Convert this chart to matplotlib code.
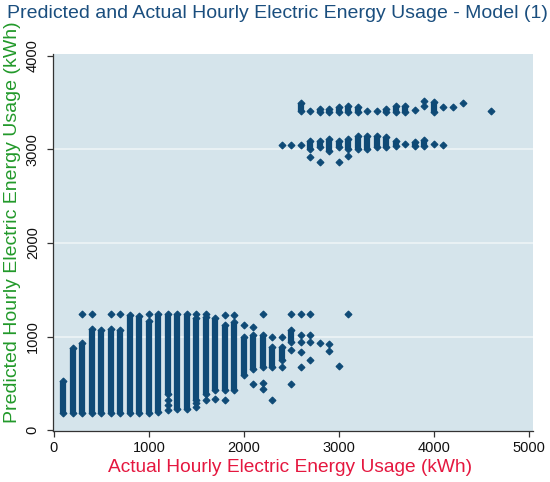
import matplotlib
matplotlib.use("Agg")
import matplotlib.pyplot as plt

# ---------------- data ----------------
# continuous vertical runs of points: actual usage bin, lowest and highest predicted value
seg_x = [100, 200, 300, 400, 500, 600, 700, 800, 900, 1000, 1100, 1200, 1300, 1400,
         1500, 1600, 1700, 1800, 1900, 2000, 2100, 2200, 2300, 2400, 2500,
         2700, 2800, 2900, 3000, 3100, 3200, 3300, 3400, 3500, 3600, 3800, 3900,
         2600, 2800, 2900, 3000, 3100, 3200, 3500, 3600, 3700, 4000]
seg_lo = [185, 185, 185, 185, 185, 185, 185, 185, 185, 185, 190, 390, 230, 230,
          320, 390, 430, 427, 430, 587, 658, 676, 676, 747, 942,
          3000, 3022, 2987, 3022, 3004, 3004, 3004, 3022, 3022, 3040, 3040, 3040,
          3406, 3396, 3396, 3396, 3396, 3396, 3396, 3396, 3396, 3396]
seg_hi = [525, 880, 935, 1085, 1067, 1085, 1075, 1230, 1220, 1170, 1240, 1240, 1244, 1244,
          1200, 1209, 1200, 1120, 1156, 1000, 1013, 1013, 889, 889, 1067,
          3090, 3093, 3111, 3093, 3111, 3147, 3147, 3147, 3129, 3093, 3076, 3100,
          3491, 3431, 3431, 3449, 3467, 3449, 3431, 3467, 3467, 3502]

# isolated points
pt_x = [300, 400, 600, 700, 1000, 1200, 1200, 1200, 1500, 1500, 1500, 1600, 1600,
        1700, 1800, 1800, 1900, 2000, 2100, 2100, 2200, 2200, 2200, 2300, 2300,
        2400, 2400, 2500, 2500, 2500, 2600, 2600, 2600, 2600, 2600,
        2700, 2700, 2700, 2700, 2800, 2900, 2900, 3000, 3100,
        2400, 2500, 2600, 2700, 2800, 3000, 3100, 3700, 4000, 4100,
        2700, 3300, 3400, 3800, 3900, 3900, 4100, 4200, 4300, 4600]
pt_y = [1244, 1244, 1244, 1244, 1244, 320, 267, 213, 1244, 285, 250, 1244, 320,
        327, 1230, 320, 1230, 1120, 1102, 491, 1237, 498, 434, 996, 320,
        996, 676, 1237, 853, 491, 1237, 1013, 942, 836, 676,
        1237, 1013, 942, 754, 931, 924, 845, 684, 1237,
        3047, 3047, 3047, 2915, 2869, 2862, 2933, 3058, 3058, 3047,
        3406, 3406, 3406, 3420, 3520, 3467, 3449, 3449, 3491, 3413]

x_ticks = [0, 1000, 2000, 3000, 4000, 5000]
y_ticks = [0, 1000, 2000, 3000, 4000]

title = "Predicted and Actual Hourly Electric Energy Usage - Model (1)"
x_label = "Actual Hourly Electric Energy Usage (kWh)"
y_label = "Predicted Hourly Electric Energy Usage (kWh)"

# ---------------- style ----------------
plt.rcParams['font.family'] = ['Liberation Sans', 'DejaVu Sans']
navy = "#0F4A76"
panel = "#D5E4EB"

fig = plt.figure(figsize=(5.5, 4.82), dpi=100)
fig.patch.set_facecolor("white")
W, H = 550, 482
ax = fig.add_axes([53 / W, (H - 431) / H, (533 - 53) / W, (431 - 54) / H])
ax.set_facecolor(panel)
ax.set_xlim(-10, 5042)
ax.set_ylim(-10, 4020)

for yv in [1000, 2000, 3000]:
    ax.axhline(yv, color="#EEF4F7", lw=1.2, zorder=1)

ax.vlines(seg_x, seg_lo, seg_hi, colors=navy, linewidth=4.5, zorder=3)
ends_x = seg_x + seg_x
ends_y = seg_lo + seg_hi
ax.plot(ends_x, ends_y, ls="none", marker="D", ms=3.5, mfc=navy, mec=navy, mew=0.8, zorder=4)
ax.plot(pt_x, pt_y, ls="none", marker="D", ms=3.5, mfc=navy, mec=navy, mew=0.8, zorder=4)

for s in ["top", "right"]:
    ax.spines[s].set_visible(False)
for s in ["left", "bottom"]:
    ax.spines[s].set_color("#333333")
    ax.spines[s].set_linewidth(0.9)

ax.set_xticks(x_ticks)
ax.set_xticklabels([str(v) for v in x_ticks])
ax.set_yticks(y_ticks)
ax.set_yticklabels([str(v) for v in y_ticks], rotation=90, va="center")
ax.tick_params(axis="both", direction="out", length=4.5, width=0.9, color="#333333",
               labelsize=10.5, labelcolor="#111111")
ax.tick_params(axis="x", pad=3)
ax.tick_params(axis="y", pad=5)

fig.text(277 / W, 1 - 14 / H, title, ha="center", va="center", fontsize=14, color="#1A4E7E")
fig.text(290 / W, 1 - 467 / H, x_label, ha="center", va="center", fontsize=13.8, color="#E5173F")
fig.text(13 / W, 1 - 222 / H, y_label, ha="center", va="center", fontsize=14,
         color="#22992A", rotation=90)

fig.savefig("out.png", dpi=100, facecolor="white")
